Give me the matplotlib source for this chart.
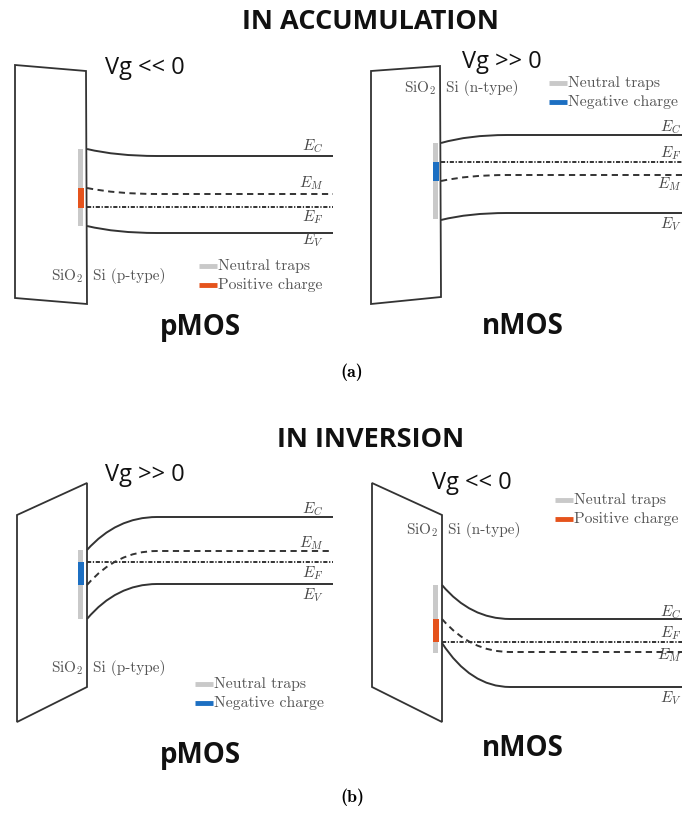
import matplotlib
matplotlib.use("Agg")
from matplotlib import pyplot as plt
from matplotlib.path import Path
from matplotlib.patches import PathPatch, Polygon, Rectangle

plt.rcParams['mathtext.fontset'] = 'cm'
plt.rcParams['lines.scale_dashes'] = False

# band order: E_C, E_M, E_F, E_V  (levels in pixel rows, surface -> bulk)
band_labels = ['C', 'M', 'F', 'V']
acc_p_surface = [149, 188, 207, 226]
acc_p_bulk = [156, 194, 207, 233]
acc_n_surface = [143, 181, 162, 220]
acc_n_bulk = [135, 175, 162, 213]
inv_p_surface = [550, 585, 562, 619]
inv_p_bulk = [517, 551, 562, 584]
inv_n_surface = [585, 619, 642, 643]
inv_n_bulk = [619, 652, 642, 687]

# label rows next to the bulk lines
acc_p_label_y = [146, 183, 217, 240]
acc_n_label_y = [127, 184, 153, 224]
inv_p_label_y = [509, 543, 573, 595]
inv_n_label_y = [612, 655, 633, 698]

# trap bands: (top, bottom) of neutral traps and of charged part
acc_p_traps = [(149, 226), (188, 208)]
acc_n_traps = [(143, 219), (162, 181)]
inv_p_traps = [(550, 619), (562, 585)]
inv_n_traps = [(585, 653), (619, 642)]

GRAY = '#c9c9c9'
ORANGE = '#e5531c'
BLUE = '#1c6fc2'
LINE = '#333333'
STYLES = {'C': '-', 'M': (0, (4.5, 3.2)), 'F': (0, (3, 1.2, 0.9, 1.2)), 'V': '-'}

fig = plt.figure(figsize=(6.82, 8.16), dpi=100)
ax = fig.add_axes([0, 0, 1, 1])
ax.set_xlim(0, 682)
ax.set_ylim(816, 0)
ax.axis('off')


def draw_panel(oxide, x_if, x_bend, x_end, surface, bulk, label_y, label_x,
               traps, charge_color, trap_x):
    ax.add_patch(Polygon(oxide, closed=True, fill=False, ec=LINE, lw=1.3))
    for name, ys, yb, ly in zip(band_labels, surface, bulk, label_y):
        ctrl = x_if + 0.42 * (x_bend - x_if)
        path = Path([(x_if, ys), (ctrl, yb), (x_bend, yb), (x_end, yb)],
                    [Path.MOVETO, Path.CURVE3, Path.CURVE3, Path.LINETO])
        ax.add_patch(PathPatch(path, fill=False, ec=LINE, lw=1.4,
                               linestyle=STYLES[name], capstyle='butt'))
        ax.text(label_x, ly, r'$E_{%s}$' % name, ha='right', va='center',
                fontsize=11, color='#444444')
    (g0, g1), (c0, c1) = traps
    ax.add_patch(Rectangle((trap_x, g0), 5, g1 - g0, color=GRAY, lw=0))
    ax.add_patch(Rectangle((trap_x, c0), 6, c1 - c0, color=charge_color, lw=0))


def legend(x, y, charge_label, charge_color):
    ax.plot([x, x + 18], [y, y], color=GRAY, lw=3.5, solid_capstyle='butt')
    ax.plot([x, x + 18], [y + 19, y + 19], color=charge_color, lw=3.5,
            solid_capstyle='butt')
    ax.text(x + 19, y, 'Neutral traps', family='cmr10', fontsize=11.3,
            color='#555555', va='center')
    ax.text(x + 19, y + 19, charge_label, family='cmr10', fontsize=11.3,
            color='#555555', va='center')


def layers(x_ox, y, dopant):
    ax.text(x_ox - 4, y, r'SiO$_2$', family='cmr10', fontsize=11,
            color='#555555', ha='right', va='center')
    ax.text(x_ox + 6, y, 'Si (%s-type)' % dopant, family='cmr10', fontsize=11,
            color='#555555', ha='left', va='center')


# (a) accumulation
draw_panel([(15, 65), (86, 71), (87, 304), (15, 298)], 87, 157, 333,
           acc_p_surface, acc_p_bulk, acc_p_label_y, 323,
           acc_p_traps, ORANGE, 78)
draw_panel([(371, 71), (440, 66), (441, 297), (371, 304)], 441, 507, 682,
           acc_n_surface, acc_n_bulk, acc_n_label_y, 681,
           acc_n_traps, BLUE, 433)
legend(199, 266, 'Positive charge', ORANGE)
legend(549, 83, 'Negative charge', BLUE)
layers(87, 276, 'p')
layers(440, 88, 'n')

# (b) inversion
draw_panel([(17, 515), (87, 483), (87, 687), (17, 722)], 87, 157, 333,
           inv_p_surface, inv_p_bulk, inv_p_label_y, 323,
           inv_p_traps, BLUE, 78)
draw_panel([(372, 483), (442, 515), (442, 722), (372, 687)], 442, 510, 682,
           inv_n_surface, inv_n_bulk, inv_n_label_y, 681,
           inv_n_traps, ORANGE, 433)
legend(195, 684, 'Negative charge', BLUE)
legend(555, 500, 'Positive charge', ORANGE)
layers(87, 668, 'p')
layers(442, 530, 'n')

title_font = dict(family='Open Sans', weight='bold', color='#111111')
ax.text(370, 22, 'IN ACCUMULATION', ha='center', va='center', fontsize=19.5, **title_font)
ax.text(371, 440, 'IN INVERSION', ha='center', va='center', fontsize=19.5, **title_font)
for x, y, s in [(200, 327, 'pMOS'), (523, 327, 'nMOS'),
                (200, 755, 'pMOS'), (523, 748, 'nMOS')]:
    ax.text(x, y, s, ha='center', va='center', fontsize=20, **title_font)

vg_font = dict(family='Open Sans', fontsize=17, color='#111111', va='center')
ax.text(105, 68, 'Vg << 0', **vg_font)
ax.text(462, 62, 'Vg >> 0', **vg_font)
ax.text(105, 475, 'Vg >> 0', **vg_font)
ax.text(432, 483, 'Vg << 0', **vg_font)

ax.text(352, 372, '(a)', family='cmb10', fontsize=13, ha='center', va='center')
ax.text(352, 797, '(b)', family='cmb10', fontsize=13, ha='center', va='center')

fig.savefig('out.png', dpi=100)
